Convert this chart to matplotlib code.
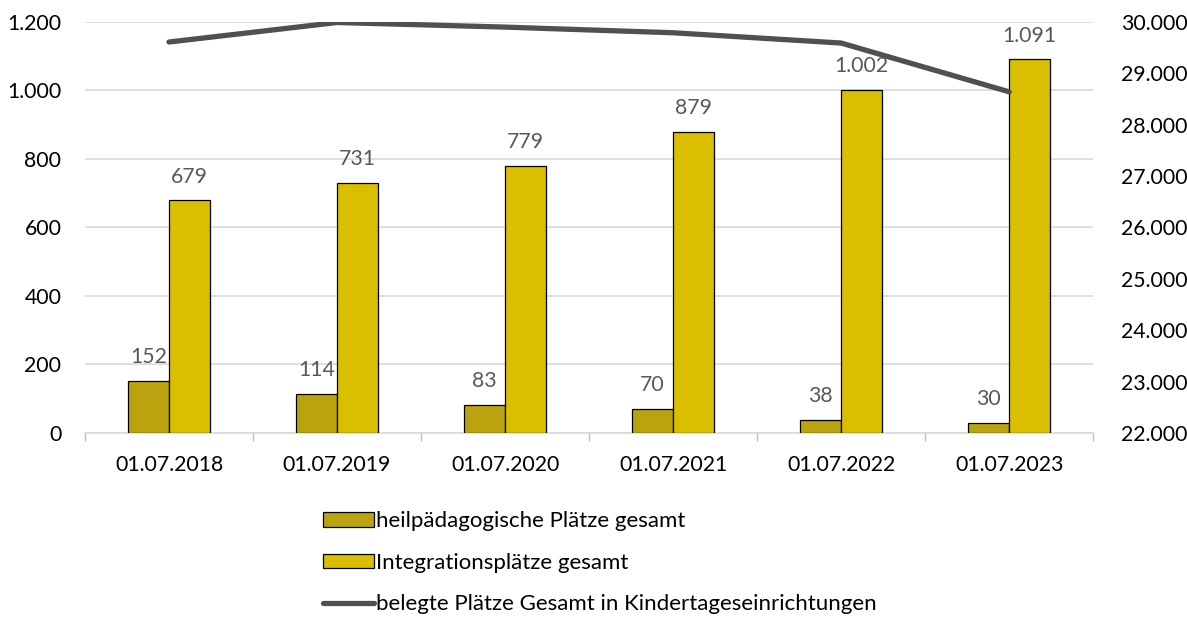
import numpy as np
import matplotlib.pyplot as plt
from matplotlib.ticker import FuncFormatter, FixedLocator
from matplotlib.lines import Line2D
from matplotlib.patches import Patch

plt.rcParams['font.family'] = ['Lato', 'DejaVu Sans']

dates = ["01.07.2018", "01.07.2019", "01.07.2020", "01.07.2021", "01.07.2022", "01.07.2023"]
heil = [152, 114, 83, 70, 38, 30]
integ = [679, 731, 779, 879, 1002, 1091]
belegt = [29610, 29990, 29900, 29790, 29590, 28640]

c_heil = "#BBA30F"
c_integ = "#DABF00"
c_line = "#505050"
c_lab = "#595959"


def de(v, pos=None):
    return f"{int(v):,}".replace(",", ".")


fig = plt.figure(figsize=(11.87, 6.19), dpi=100)
ax = fig.add_axes([0.0716, 0.3005, 0.8494, 0.664])
ax2 = ax.twinx()

x = np.arange(len(dates))
w = 0.244
ax.bar(x - w / 2, heil, w, color=c_heil, edgecolor="black", linewidth=0.9, zorder=3)
ax.bar(x + w / 2, integ, w, color=c_integ, edgecolor="black", linewidth=0.9, zorder=3)

fs = 15.3
for xi, v in zip(x, heil):
    ax.text(xi - w / 2, v + 40, de(v), ha="center", va="bottom", fontsize=fs, color=c_lab)
for xi, v in zip(x, integ):
    ax.text(xi + w / 2, v + 40, de(v), ha="center", va="bottom", fontsize=fs, color=c_lab)

ax2.plot(x, belegt, color=c_line, linewidth=3.8, solid_capstyle="round", zorder=4)

ax.set_xlim(-0.5, len(dates) - 0.5)
ax.set_ylim(0, 1200)
ax2.set_ylim(22000, 30000)
ax.set_yticks(np.arange(0, 1201, 200))
ax2.set_yticks(np.arange(22000, 30001, 1000))
ax.yaxis.set_major_formatter(FuncFormatter(de))
ax2.yaxis.set_major_formatter(FuncFormatter(de))

ax.set_xticks(x)
ax.set_xticklabels(dates)
ax.xaxis.set_minor_locator(FixedLocator(np.arange(-0.5, len(dates), 1)))
ax.tick_params(axis="x", which="major", length=0, pad=16, labelsize=fs)
ax.tick_params(axis="x", which="minor", length=6, color="#BFBFBF", width=1)
ax.tick_params(axis="y", length=0, pad=17, labelsize=fs)
ax2.tick_params(axis="y", length=0, pad=20, labelsize=fs)

ax.grid(axis="y", color="#D9D9D9", linewidth=1.2, zorder=0)
ax.set_axisbelow(True)
for a in (ax, ax2):
    for s in a.spines.values():
        s.set_visible(False)
ax.spines["bottom"].set_visible(True)
ax.spines["bottom"].set_color("#D9D9D9")
ax.spines["bottom"].set_linewidth(1.2)

handles = [
    Patch(facecolor=c_heil, edgecolor="black", linewidth=0.9),
    Patch(facecolor=c_integ, edgecolor="black", linewidth=0.9),
    Line2D([0], [0], color=c_line, linewidth=3.8, solid_capstyle="round"),
]
labels = ["heilpädagogische Plätze gesamt", "Integrationsplätze gesamt",
          "belegte Plätze Gesamt in Kindertageseinrichtungen"]
fig.legend(handles, labels, loc="upper left", bbox_to_anchor=(0.2625, 0.192),
           frameon=False, fontsize=16, handlelength=2.3, handleheight=0.65,
           handletextpad=0.1, labelspacing=0.97, borderpad=0)

fig.savefig("out.png", dpi=100)
